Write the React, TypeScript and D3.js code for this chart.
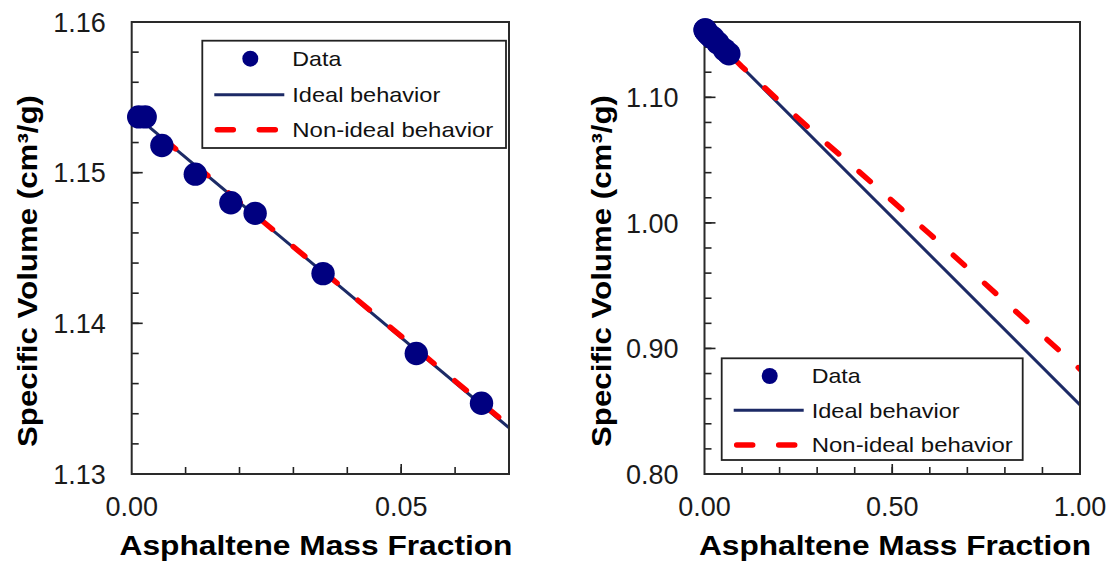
import React from 'react'
import * as d3 from 'd3'

// measured data (asphaltene mass fraction vs specific volume, cm3/g)
const massFraction = [0.0013, 0.0025, 0.0056, 0.0118, 0.0184, 0.0229, 0.0355, 0.0528, 0.0649]
const specificVolume = [1.1537, 1.1537, 1.1518, 1.1499, 1.148, 1.1473, 1.1433, 1.138, 1.1347]

// ideal mixing line
const idealFraction = [0, 1]
const idealVolume = [1.154, 0.855]

// non-ideal model curve
const nonIdealFraction = [0, 0.07, 0.1, 0.2, 0.3, 0.4, 0.5, 0.6, 0.7, 0.8, 0.9, 1.0]
const nonIdealVolume = [1.154, 1.1332, 1.1244, 1.0967, 1.0698, 1.0439, 1.0175, 0.9911, 0.9642, 0.9373, 0.9104, 0.8835]

const legendLabels = ['Data', 'Ideal behavior', 'Non-ideal behavior']
const legendWidths = [49, 148, 201]

const xTitle = 'Asphaltene Mass Fraction'
const yTitle = 'Specific Volume (cm³/g)'

const leftXLabels = [0, 0.05]
const leftYLabels = [1.13, 1.14, 1.15, 1.16]
const rightXLabels = [0, 0.5, 1.0]
const rightYLabels = [0.8, 0.9, 1.0, 1.1]

const FONT = 'Liberation Sans, Arial, sans-serif'
const NAVY = '#000080'
const LINE_NAVY = '#1c2a66'
const RED = '#ff0000'
const fmt = d3.format('.2f')

const points = massFraction.map((x, i) => ({ x, y: specificVolume[i] }))
const ideal = idealFraction.map((x, i) => ({ x, y: idealVolume[i] }))
const nonIdeal = nonIdealFraction.map((x, i) => ({ x, y: nonIdealVolume[i] }))

function Panel(props) {
  const { frame, xDomain, yDomain, xMinor, xMajor, yMinor, yMajor, xLabels, yLabels,
    legend, yTitleX, xTitleX, xTitleLen } = props
  const x = d3.scaleLinear().domain(xDomain).range([frame.x0, frame.x1])
  const y = d3.scaleLinear().domain(yDomain).range([frame.y1, frame.y0])

  const visible = nonIdeal.filter((d) => d.x <= xDomain[1] + 1e-9)
  const line = d3.line().x((d) => x(d.x)).y((d) => y(d.y))
  const clipId = `clip-${frame.x0}`

  return (
    <g>
      <defs>
        <clipPath id={clipId}>
          <rect x={frame.x0} y={frame.y0} width={frame.x1 - frame.x0} height={frame.y1 - frame.y0} />
        </clipPath>
      </defs>

      {/* ticks */}
      {xMinor.map((t) => (
        <line key={'xm' + t} x1={x(t)} x2={x(t)} y1={frame.y1} y2={frame.y1 - 7} stroke="#222" strokeWidth={1.6} />
      ))}
      {xMajor.map((t) => (
        <line key={'xM' + t} x1={x(t)} x2={x(t)} y1={frame.y1} y2={frame.y1 - 10} stroke="#222" strokeWidth={1.6} />
      ))}
      {yMinor.map((t) => (
        <line key={'ym' + t} y1={y(t)} y2={y(t)} x1={frame.x0} x2={frame.x0 + 7} stroke="#222" strokeWidth={1.6} />
      ))}
      {yMajor.map((t) => (
        <line key={'yM' + t} y1={y(t)} y2={y(t)} x1={frame.x0} x2={frame.x0 + 11} stroke="#222" strokeWidth={1.6} />
      ))}

      <g clipPath={`url(#${clipId})`}>
        <path d={line(ideal)} fill="none" stroke={LINE_NAVY} strokeWidth={3} />
        <path d={line(visible)} fill="none" stroke={RED} strokeWidth={5.5}
          strokeDasharray="15 27" strokeLinecap="round" />
      </g>

      <rect x={frame.x0} y={frame.y0} width={frame.x1 - frame.x0} height={frame.y1 - frame.y0}
        fill="none" stroke="#2a2a2a" strokeWidth={2} />

      {points.map((d, i) => (
        <circle key={i} cx={x(d.x)} cy={y(d.y)} r={11.7} fill={NAVY} />
      ))}

      {/* tick labels */}
      {xLabels.map((t) => (
        <text key={'xl' + t} x={x(t)} y={516} textAnchor="middle" fontSize={27} fontFamily={FONT} fill="#1a1a1a">
          {fmt(t)}
        </text>
      ))}
      {yLabels.map((t) => (
        <text key={'yl' + t} x={frame.x0 - 26} y={y(t)} dy="0.36em" textAnchor="end" fontSize={27}
          fontFamily={FONT} fill="#1a1a1a">
          {fmt(t)}
        </text>
      ))}

      {/* axis titles */}
      <text x={xTitleX} y={555} textAnchor="middle" fontSize={28} fontWeight="bold" fontFamily={FONT}
        textLength={xTitleLen} lengthAdjust="spacingAndGlyphs">
        {xTitle}
      </text>
      <text transform={`translate(${yTitleX},271) rotate(-90)`} textAnchor="middle" fontSize={28}
        fontWeight="bold" fontFamily={FONT} textLength={352} lengthAdjust="spacingAndGlyphs">
        {yTitle}
      </text>

      {/* legend */}
      <g transform={`translate(${legend.x},${legend.y})`}>
        <rect x={0} y={0} width={legend.w} height={legend.h} fill="#fff" stroke="#222" strokeWidth={1.8} />
        <circle cx={48} cy={legend.rows[0]} r={8} fill={NAVY} />
        <line x1={12} x2={82} y1={legend.rows[1]} y2={legend.rows[1]} stroke={LINE_NAVY} strokeWidth={3} />
        <line x1={15} x2={82} y1={legend.rows[2]} y2={legend.rows[2]} stroke={RED} strokeWidth={5.5}
          strokeDasharray="16 26" strokeLinecap="round" />
        {legendLabels.map((s, i) => (
          <text key={s} x={90} y={legend.rows[i] + 7.5} fontSize={21} fontFamily={FONT} fill="#111"
            textLength={legendWidths[i]} lengthAdjust="spacingAndGlyphs">
            {s}
          </text>
        ))}
      </g>
    </g>
  )
}

export default function App() {
  return (
    <svg width={1115} height={565} style={{ position: 'absolute', left: 0, top: 0, background: '#fff' }}>
      <Panel
        frame={{ x0: 131.7, x1: 509, y0: 22, y1: 474 }}
        xDomain={[0, 0.07]}
        yDomain={[1.13, 1.16]}
        xMinor={d3.range(1, 7).map((i) => i * 0.01)}
        xMajor={[0.05]}
        yMinor={d3.range(1, 15).map((i) => 1.13 + i * 0.002)}
        yMajor={leftYLabels}
        xLabels={leftXLabels}
        yLabels={leftYLabels}
        legend={{ x: 202.3, y: 40.7, w: 303.7, h: 107.3, rows: [18, 54, 89] }}
        yTitleX={37}
        xTitleX={316}
        xTitleLen={393}
      />
      <Panel
        frame={{ x0: 704.5, x1: 1080, y0: 22, y1: 474 }}
        xDomain={[0, 1]}
        yDomain={[0.8, 1.16]}
        xMinor={d3.range(1, 10).map((i) => i * 0.1)}
        xMajor={[0.5]}
        yMinor={d3.range(1, 18).map((i) => 0.8 + i * 0.02)}
        yMajor={rightYLabels}
        xLabels={rightXLabels}
        yLabels={rightYLabels}
        legend={{ x: 721.7, y: 358.3, w: 301, h: 101.7, rows: [17.7, 52, 86.7] }}
        yTitleX={611}
        xTitleX={895}
        xTitleLen={392}
      />
    </svg>
  )
}
